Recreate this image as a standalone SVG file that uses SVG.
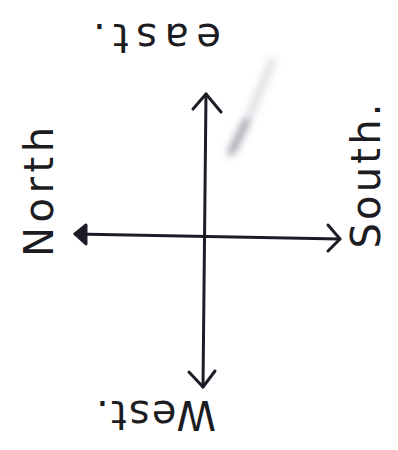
<svg xmlns="http://www.w3.org/2000/svg" width="398" height="450" viewBox="0 0 398 450">
<defs>
<style>
.lbl{font-family:"DejaVu Sans","Liberation Sans",sans-serif;font-size:40px;fill:#1c1c22;}
.ln{stroke:#1c1c26;stroke-width:3;fill:none;stroke-linecap:round;stroke-linejoin:round;}
.solid{fill:#1c1c26;}
</style>
<filter id="blur" x="-50%" y="-50%" width="200%" height="200%"><feGaussianBlur stdDeviation="3.5"/></filter>
</defs>
<rect width="398" height="450" fill="#ffffff"/>
<g id="smudge" filter="url(#blur)">
<path d="M272 62 L252 110 L234 150" stroke="#c4c4ce" stroke-width="8" fill="none" stroke-linecap="round" opacity="0.5"/>
<path d="M246 122 L231 152" stroke="#7c7c8c" stroke-width="8" fill="none" stroke-linecap="round" opacity="0.55"/>
</g>
<g id="connectors">
<path class="ln" d="M206 94 L203 387"/>
<path class="ln" d="M193 109 L206 94 L221 112"/>
<path class="ln" d="M189 372 L203 387 L215 371"/>
<path class="ln" d="M75 234 L340 239"/>
<path class="ln solid" d="M86 225 L75 234 L86 244 Z"/>
<path class="ln" d="M328 225 L340 239 L328 251"/>
</g>
<g id="east">
<text class="lbl" transform="translate(157,24) rotate(180)" text-anchor="middle" textLength="128" lengthAdjust="spacing">east.</text>
</g>
<g id="west">
<text class="lbl" transform="translate(156,401) rotate(180)" text-anchor="middle" textLength="120" lengthAdjust="spacing">West.</text>
</g>
<g id="north">
<text class="lbl" transform="translate(53,192) rotate(-90)" text-anchor="middle" textLength="130" lengthAdjust="spacing">North</text>
</g>
<g id="south">
<text class="lbl" transform="translate(380,176) rotate(-90)" text-anchor="middle" textLength="145" lengthAdjust="spacing">South.</text>
</g>
</svg>
